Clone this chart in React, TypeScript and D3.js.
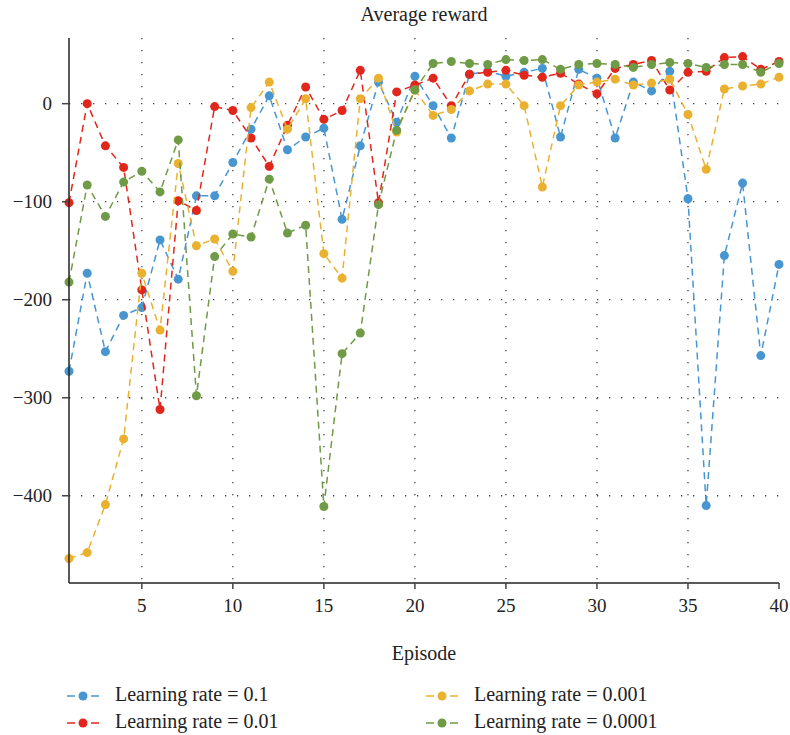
import * as d3 from "d3";

// Episodes 1..40
const episodes = d3.range(1, 41);

// Average reward per episode
const lr01 = [-273, -173, -253, -216, -208, -139, -179, -94, -94, -60, -26, 8, -47, -34, -25, -118, -43, 22, -19, 28,
  -2, -35, 30, 33, 28, 32, 36, -34, 35, 26, -35, 22, 13, 33, -97, -410, -155, -81, -257, -164];
const lr001 = [-101, 0, -43, -65, -190, -312, -99, -109, -3, -7, -35, -64, -22, 17, -16, -7, 34, -101, 12, 19,
  26, -2, 30, 32, 34, 29, 27, 31, 20, 10, 36, 40, 44, 14, 32, 33, 47, 48, 35, 43];
const lr0001 = [-464, -458, -409, -342, -173, -231, -61, -145, -138, -171, -4, 22, -26, 5, -153, -178, 5, 26, -29, 14,
  -12, -6, 13, 20, 20, -2, -85, -2, 19, 22, 25, 19, 21, 25, -11, -67, 15, 18, 20, 27];
const lr00001 = [-182, -83, -115, -80, -69, -90, -37, -298, -156, -133, -136, -77, -132, -124, -411, -255, -234, -103, -27, 14,
  41, 43, 41, 40, 45, 44, 45, 35, 40, 41, 40, 37, 40, 42, 41, 37, 40, 40, 32, 41];

const seriesNames = ["Learning rate = 0.1", "Learning rate = 0.01", "Learning rate = 0.001", "Learning rate = 0.0001"];
const seriesValues = [lr01, lr001, lr0001, lr00001];
const seriesColors = ["#4796d0", "#e1261c", "#eab130", "#6f9a46"];

const xTicks = [5, 10, 15, 20, 25, 30, 35, 40];
const yTicks = [0, -100, -200, -300, -400];

const W = 790, H = 735;
const left = 69, right = 779, top = 38, bottom = 583;
const font = "'Liberation Serif', 'DejaVu Serif', serif";

export default function App() {
  const x = d3.scaleLinear().domain([1, 40]).range([left, right]);
  const y = d3.scaleLinear().domain([-489, 67]).range([bottom, top]);

  const line = d3.line<number>()
    .x((_, i) => x(episodes[i]))
    .y((d) => y(d));

  const fmt = (v: number) => (v < 0 ? "\u2212" + Math.abs(v) : String(v));

  // legend spots: column-major, 2 rows
  const legendPos = [
    { x: 83, y: 696 },
    { x: 83, y: 723 },
    { x: 442, y: 696 },
    { x: 442, y: 723 },
  ];

  return (
    <svg width={W} height={H} style={{ position: "absolute", left: 0, top: 0, background: "#fff" }} fontFamily={font}>
      {/* title */}
      <text x={(left + right) / 2} y={21} textAnchor="middle" fontSize={20} fill="#222">Average reward</text>

      {/* dotted grid */}
      {yTicks.map((t) => (
        <line key={"gy" + t} x1={left} x2={right} y1={y(t)} y2={y(t)}
          stroke="#444" strokeWidth={1.3} strokeDasharray="1.3,10.7" />
      ))}
      {xTicks.filter((t) => t < 40).map((t) => (
        <line key={"gx" + t} x1={x(t)} x2={x(t)} y1={top} y2={bottom}
          stroke="#444" strokeWidth={1.3} strokeDasharray="1.3,10.7" />
      ))}

      {/* series */}
      {seriesValues.map((vals, si) => (
        <g key={si}>
          <path d={line(vals) || ""} fill="none" stroke={seriesColors[si]} strokeWidth={1.5} strokeDasharray="7,5" />
          {vals.map((v, i) => (
            <circle key={i} cx={x(episodes[i])} cy={y(v)} r={4.5} fill={seriesColors[si]} />
          ))}
        </g>
      ))}

      {/* axes */}
      <line x1={left} x2={left} y1={top} y2={bottom} stroke="#222" strokeWidth={1.5} />
      <line x1={left} x2={right} y1={bottom} y2={bottom} stroke="#222" strokeWidth={1.5} />
      {yTicks.map((t) => (
        <g key={"ty" + t}>
          <line x1={left - 7} x2={left} y1={y(t)} y2={y(t)} stroke="#444" strokeWidth={1.5} />
          <text x={left - 17} y={y(t) + 6} textAnchor="end" fontSize={19} fill="#222">{fmt(t)}</text>
        </g>
      ))}
      {xTicks.map((t) => (
        <g key={"tx" + t}>
          <line x1={x(t)} x2={x(t)} y1={bottom} y2={bottom + 6} stroke="#444" strokeWidth={1.5} />
          <text x={x(t)} y={bottom + 29} textAnchor="middle" fontSize={19} fill="#222">{t}</text>
        </g>
      ))}
      <text x={(left + right) / 2} y={660} textAnchor="middle" fontSize={20} fill="#222">Episode</text>

      {/* legend */}
      {seriesNames.map((name, i) => (
        <g key={name} transform={`translate(${legendPos[i].x},${legendPos[i].y})`}>
          <line x1={-16} x2={-8} y1={0} y2={0} stroke={seriesColors[i]} strokeWidth={1.5} />
          <line x1={8} x2={16} y1={0} y2={0} stroke={seriesColors[i]} strokeWidth={1.5} />
          <circle cx={0} cy={0} r={4.5} fill={seriesColors[i]} />
          <text x={32} y={5} fontSize={20} fill="#222">{name}</text>
        </g>
      ))}
    </svg>
  );
}
